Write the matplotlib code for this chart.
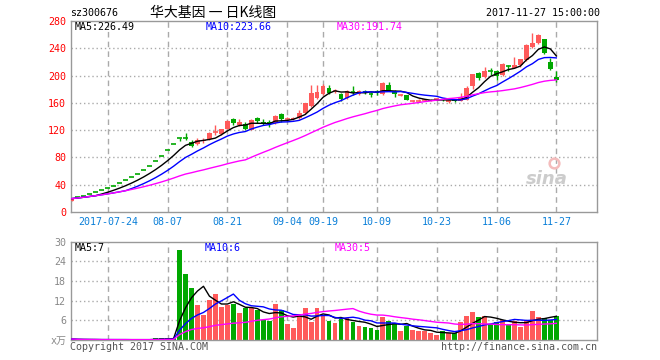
import numpy as np
import pandas as pd
import matplotlib
matplotlib.use("Agg")
import matplotlib.pyplot as plt

plt.rcParams['font.family'] = ['DejaVu Sans Mono', 'Noto Sans CJK SC']

# daily K-line of sz300676 (index 0 = listing day)
opens = [16.37, 21.60, 23.76, 26.14, 28.75, 31.63, 34.79, 38.27, 42.10, 46.31,
         50.94, 56.03, 61.64, 67.80, 74.58, 82.04, 90.24, 99.26, 109.19, 108.5,
         103.1, 99.3, 104.5, 106.5, 117.5, 114.4, 122.2, 136.3, 127.6, 128.7,
         120.8, 137.8, 132.5, 131.5, 130.0, 143.7, 135.5, 136.0, 137.3, 144.7,
         155.0, 166.7, 172.4, 181.3, 177.0, 173.0, 166.7, 176.8, 173.0, 177.0,
         173.5, 177.0, 173.0, 186.2, 177.9, 171.2, 171.6, 163.0, 163.0, 163.5,
         163.0, 165.0, 165.0, 161.0, 164.0, 163.4, 164.2, 184.8, 204.3, 197.6,
         207.0, 206.7, 200.4, 214.0, 211.6, 216.2, 222.9, 242.4, 248.3, 253.2,
         220.4, 197.6]
highs = [19.64, 21.60, 23.76, 26.14, 28.75, 31.63, 34.79, 38.27, 42.10, 46.31,
         50.94, 56.03, 61.64, 67.80, 74.58, 82.04, 90.24, 99.26, 109.19, 115.5,
         105.6, 108.0, 108.0, 117.8, 127.6, 122.0, 135.3, 138.3, 135.9, 132.5,
         136.0, 139.5, 135.9, 134.9, 141.5, 144.7, 138.8, 139.5, 149.5, 160.5,
         186.0, 186.2, 187.2, 186.0, 179.8, 175.0, 178.5, 184.7, 179.0, 179.0,
         175.5, 179.5, 190.0, 190.5, 179.5, 173.0, 172.0, 164.5, 165.0, 165.5,
         165.0, 167.0, 166.0, 164.5, 165.0, 174.0, 184.0, 203.0, 205.5, 213.0,
         211.0, 208.0, 219.0, 216.2, 227.5, 225.0, 246.0, 263.0, 261.0, 254.0,
         226.2, 207.3]
lows = [16.37, 21.60, 23.76, 26.14, 28.75, 31.63, 34.79, 38.27, 42.10, 46.31,
        50.94, 56.03, 61.64, 67.80, 74.58, 82.04, 90.24, 99.26, 104.5, 105.5,
        95.8, 98.2, 100.7, 105.5, 112.9, 113.0, 121.5, 127.6, 126.2, 120.0,
        120.0, 131.0, 127.6, 125.1, 129.0, 132.5, 133.0, 135.0, 136.5, 143.5,
        154.4, 165.0, 171.0, 173.0, 174.0, 163.0, 165.0, 171.6, 172.0, 173.0,
        168.0, 172.0, 172.0, 177.0, 169.0, 170.0, 163.5, 161.5, 161.5, 162.0,
        162.0, 163.5, 162.0, 159.4, 161.5, 163.0, 163.5, 180.0, 193.0, 196.0,
        201.0, 194.0, 199.0, 206.7, 210.5, 213.0, 222.0, 241.0, 246.0, 232.0,
        208.0, 190.6]
closes = [19.64, 21.60, 23.76, 26.14, 28.75, 31.63, 34.79, 38.27, 42.10, 46.31,
          50.94, 56.03, 61.64, 67.80, 74.58, 82.04, 90.24, 99.26, 109.19, 108.0,
          96.8, 105.6, 105.4, 116.3, 117.8, 121.3, 133.4, 130.0, 131.5, 121.3,
          134.4, 132.9, 130.0, 128.6, 140.8, 135.9, 136.0, 137.5, 145.6, 159.4,
          175.0, 176.4, 184.7, 175.0, 177.4, 165.7, 177.9, 176.4, 177.9, 175.5,
          173.0, 174.0, 188.7, 177.9, 173.0, 171.6, 164.2, 163.2, 163.3, 164.0,
          164.5, 165.5, 164.2, 163.5, 163.0, 168.2, 181.3, 201.9, 197.0, 207.3,
          206.7, 199.9, 216.6, 213.7, 216.2, 223.6, 244.9, 248.3, 259.5, 233.6,
          209.2, 193.5]
# volume in 10k lots
volumes = [0.3, 0.1, 0.1, 0.1, 0.1, 0.1, 0.1, 0.1, 0.1, 0.1,
           0.1, 0.1, 0.1, 0.1, 0.5, 0.5, 0.5, 0.5, 27.3, 20.2,
           15.9, 10.7, 7.7, 12.2, 14.1, 10.1, 10.7, 11.1, 8.3, 9.7,
           9.7, 9.1, 6.0, 5.8, 11.1, 9.2, 5.0, 3.8, 7.4, 9.8,
           5.6, 9.7, 7.2, 5.8, 5.2, 6.4, 6.7, 5.6, 4.3, 4.0,
           3.6, 3.1, 7.1, 5.8, 5.1, 2.8, 4.3, 3.1, 2.6, 2.6,
           2.0, 1.6, 2.6, 2.0, 2.0, 5.6, 7.4, 8.4, 6.9, 7.4,
           4.8, 5.6, 6.0, 4.8, 5.8, 4.1, 5.8, 8.9, 7.1, 6.7,
           6.0, 7.4]
# r = up candle, g = down candle, as coloured in the picture
updown = list("rggggggggg" "gggggggggg" "grrrrrrgrg" "rgggrgrrrr" "rrrgrgrgrg"
              "ggrggrgrrr" "rrgrgrrrgr" "ggrgrrrrrg" "gg")

tick_idx = [6, 16, 26, 36, 42, 51, 61, 71, 81]
tick_labels = ['2017-07-24', '08-07', '08-21', '09-04', '09-19',
               '10-09', '10-23', '11-06', '11-27']
price_ticks = [0, 40, 80, 120, 160, 200, 240, 280]
vol_ticks = [0, 6, 12, 18, 24, 30]
vol_tick_labels = ['x万', '6', '12', '18', '24', '30']
price_ma_text = ['MA5:226.49', 'MA10:223.66', 'MA30:191.74']
vol_ma_text = ['MA5:7', 'MA10:6', 'MA30:5']

RED = '#ff5a5a'
GREEN = '#00a800'
MA_COLORS = ['black', '#0000ff', '#ff00ff']
GRID = '#aaaaaa'
BORDER = '#999999'

o = np.array(opens)
h = np.array(highs)
l = np.array(lows)
c = np.array(closes)
v = np.array(volumes)
x = np.arange(len(c))
col = np.where(np.array(updown) == 'r', RED, GREEN)

fig = plt.figure(figsize=(6.6, 3.6), dpi=100)
ax = fig.add_axes([71/660, 1-212/360, 526/660, 191/360])
axv = fig.add_axes([71/660, 1-340/360, 526/660, 98.5/360])

xlim = (-0.15, 87.8)

def style(a):
    a.set_xlim(*xlim)
    for s in a.spines.values():
        s.set_color(BORDER)
        s.set_linewidth(1)
    a.tick_params(length=0, pad=3.5, labelsize=7.2)
    for t in tick_idx:
        a.axvline(t, color=GRID, lw=1, ls=(0, (4, 3)), zorder=0)

# price panel
style(ax)
ax.set_ylim(0, 280)
ax.set_yticks(price_ticks)
ax.set_yticklabels([str(t) for t in price_ticks], color='red')
for t in price_ticks[1:-1]:
    ax.axhline(t, color=GRID, lw=1, ls=(0, (1, 2)), zorder=0)
ax.set_xticks(tick_idx)
ax.set_xticklabels(tick_labels, color='#0a7fd8')

ax.vlines(x, l, h, colors=col, lw=1, zorder=2)
body = np.abs(c - o)
doji = body < 0.8
ax.bar(x[~doji], body[~doji], bottom=np.minimum(o, c)[~doji], width=0.8,
       color=col[~doji], lw=0, zorder=3)
ax.hlines(c[doji], x[doji] - 0.4, x[doji] + 0.4, colors=col[doji], lw=1.2, zorder=3)

for n, mc in zip([5, 10, 30], MA_COLORS):
    ma = pd.Series(c).rolling(n, min_periods=1).mean()
    ax.plot(x, ma, color=mc, lw=1, zorder=4)

for txt, mc, px in zip(price_ma_text, MA_COLORS, [75, 206, 337]):
    ax.text((px - 71) / 526, 0.993, txt, transform=ax.transAxes, va='top',
            color=mc, fontsize=7.2)

# sina watermark
ax.text(0.905, 0.175, 'sina', transform=ax.transAxes, ha='center', va='center',
        color='#cccccc', fontsize=13, fontstyle='italic', fontweight='bold',
        family='DejaVu Sans')
ax.plot([0.918], [0.255], 'o', transform=ax.transAxes, ms=7, mfc='none',
        mec='#f4bcbc', mew=1.8)

# volume panel
style(axv)
axv.set_ylim(0, 30)
axv.set_yticks(vol_ticks)
axv.set_yticklabels(vol_tick_labels, color='#888888')
axv.set_xticks([])
for t in vol_ticks[1:-1]:
    axv.axhline(t, color=GRID, lw=1, ls=(0, (1, 2)), zorder=0)
axv.bar(x, v, width=0.8, color=col, lw=0, zorder=2)
for n, mc in zip([5, 10, 30], MA_COLORS):
    ma = pd.Series(v).rolling(n, min_periods=1).mean()
    axv.plot(x, ma, color=mc, lw=1, zorder=4)
for txt, mc, px in zip(vol_ma_text, MA_COLORS, [75, 205, 335]):
    axv.text((px - 71) / 526, 0.985, txt, transform=axv.transAxes, va='top',
             color=mc, fontsize=7.2)

# header and footer
fig.text(70/660, 1-13/360, 'sz300676', va='center', fontsize=7.2)
fig.text(213/660, 1-13/360, '华大基因 一 日K线图', ha='center', va='center',
         fontsize=10, family=['Noto Sans CJK SC', 'DejaVu Sans'])
fig.text(600/660, 1-13/360, '2017-11-27 15:00:00', ha='right', va='center',
         fontsize=7.2)
fig.text(70/660, 1-347/360, 'Copyright 2017 SINA.COM', va='center',
         fontsize=7.2, color='#555555')
fig.text(597/660, 1-347/360, 'http://finance.sina.com.cn', ha='right',
         va='center', fontsize=7.2, color='#555555')

fig.savefig('out.png', dpi=100, facecolor='white')
